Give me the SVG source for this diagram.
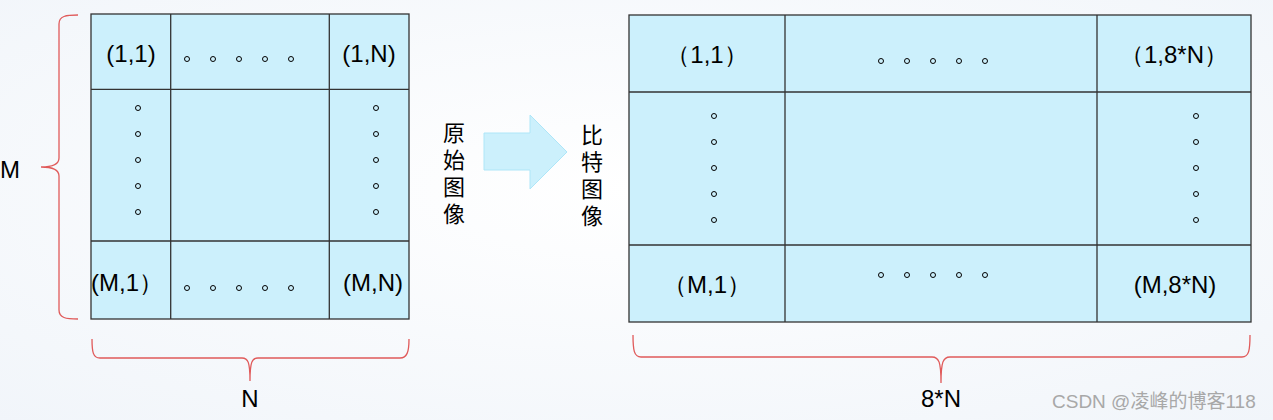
<svg xmlns="http://www.w3.org/2000/svg" width="1273" height="420" viewBox="0 0 1273 420">
<defs>
<radialGradient id="bg" cx="0.5" cy="0.45" r="0.75">
<stop offset="0" stop-color="#ffffff"/>
<stop offset="1" stop-color="#f1f5fa"/>
</radialGradient>
</defs>
<style>
.cell{fill:#ccf0fc;stroke:#333;stroke-width:1.3}
.grid{stroke:#333;stroke-width:1.3;fill:none}
.lbl{font-family:"Liberation Sans",Arial,sans-serif;font-size:24px;fill:#000;text-anchor:middle}
.cjk{font-family:"Noto Sans CJK SC",sans-serif;font-size:22px;fill:#000;writing-mode:vertical-rl;letter-spacing:5px}
.dot{fill:none;stroke:#000;stroke-width:1}
.brace{fill:none;stroke:#e05a5a;stroke-width:1.3}
.wm{font-family:"Liberation Sans","Noto Sans CJK SC",sans-serif;font-size:19px;fill:#a8a8a8}
</style>
<rect width="1273" height="420" fill="url(#bg)"/>

<g id="left-grid">
<rect class="cell" x="91" y="14" width="318" height="305"/>
<path class="grid" d="M170.7 14V319M329.3 14V319M91 89.3H409M91 241H409"/>
<text class="lbl" x="131" y="62">(1,1)</text>
<text class="lbl" x="369" y="62">(1,N)</text>
<text class="lbl" x="127" y="291">(M,1）</text>
<text class="lbl" x="373" y="291">(M,N)</text>
<g class="dot">
<circle cx="187" cy="59" r="2.5"/><circle cx="213" cy="59" r="2.5"/><circle cx="239" cy="59" r="2.5"/><circle cx="265" cy="59" r="2.5"/><circle cx="291" cy="59" r="2.5"/>
<circle cx="187" cy="288" r="2.5"/><circle cx="213" cy="288" r="2.5"/><circle cx="239" cy="288" r="2.5"/><circle cx="265" cy="288" r="2.5"/><circle cx="291" cy="288" r="2.5"/>
<circle cx="138" cy="108" r="2.5"/><circle cx="138" cy="134" r="2.5"/><circle cx="138" cy="160" r="2.5"/><circle cx="138" cy="186" r="2.5"/><circle cx="138" cy="212" r="2.5"/>
<circle cx="376" cy="108" r="2.5"/><circle cx="376" cy="134" r="2.5"/><circle cx="376" cy="160" r="2.5"/><circle cx="376" cy="186" r="2.5"/><circle cx="376" cy="212" r="2.5"/>
</g>
</g>

<g id="right-grid">
<rect class="cell" x="629" y="15" width="622" height="307"/>
<path class="grid" d="M785 15V322M1097 15V322M629 92H1251M629 245H1251"/>
<text class="lbl" x="707" y="63">（1,1）</text>
<text class="lbl" x="1174" y="63">（1,8*N）</text>
<text class="lbl" x="707" y="293">（M,1）</text>
<text class="lbl" x="1175" y="293">(M,8*N)</text>
<g class="dot">
<circle cx="881" cy="61" r="2.5"/><circle cx="907" cy="61" r="2.5"/><circle cx="933" cy="61" r="2.5"/><circle cx="959" cy="61" r="2.5"/><circle cx="985" cy="61" r="2.5"/>
<circle cx="881" cy="275" r="2.5"/><circle cx="907" cy="275" r="2.5"/><circle cx="933" cy="275" r="2.5"/><circle cx="959" cy="275" r="2.5"/><circle cx="985" cy="275" r="2.5"/>
<circle cx="714" cy="116" r="2.5"/><circle cx="714" cy="142" r="2.5"/><circle cx="714" cy="168" r="2.5"/><circle cx="714" cy="194" r="2.5"/><circle cx="714" cy="220" r="2.5"/>
<circle cx="1196" cy="116" r="2.5"/><circle cx="1196" cy="142" r="2.5"/><circle cx="1196" cy="168" r="2.5"/><circle cx="1196" cy="194" r="2.5"/><circle cx="1196" cy="220" r="2.5"/>
</g>
</g>

<g id="brace-m">
<path class="brace" d="M78 15C66 15 59 16 59 24V158C59 165 52 167 41 167C52 167 59 169 59 176V310C59 318 66 319 78 319"/>
<text class="lbl" x="10" y="178">M</text>
</g>
<g id="brace-n">
<path class="brace" d="M92 339C92 352 93 358 100 358H242C248 358 250 362 250 381C250 362 252 358 258 358H400C407 358 409 352 409 339"/>
<text class="lbl" x="250" y="407">N</text>
</g>
<g id="brace-8n">
<path class="brace" d="M633 335C633 350 634 357 641 357H932C939 357 941 362 941 383C941 362 943 357 950 357H1242C1249 357 1250 350 1250 335"/>
<text class="lbl" x="941" y="407">8*N</text>
</g>

<g id="label-src">
<text class="cjk" x="454" y="122">原始图像</text>
</g>
<g id="label-dst">
<text class="cjk" x="592" y="124">比特图像</text>
</g>

<g id="connectors">
<path d="M484 133H530V115L567 152L530 189V170H484Z" fill="#ccf0fc" stroke="#aee6f8" stroke-width="1"/>
</g>

<text class="wm" x="1052" y="408">CSDN @凌峰的博客118</text>
</svg>
